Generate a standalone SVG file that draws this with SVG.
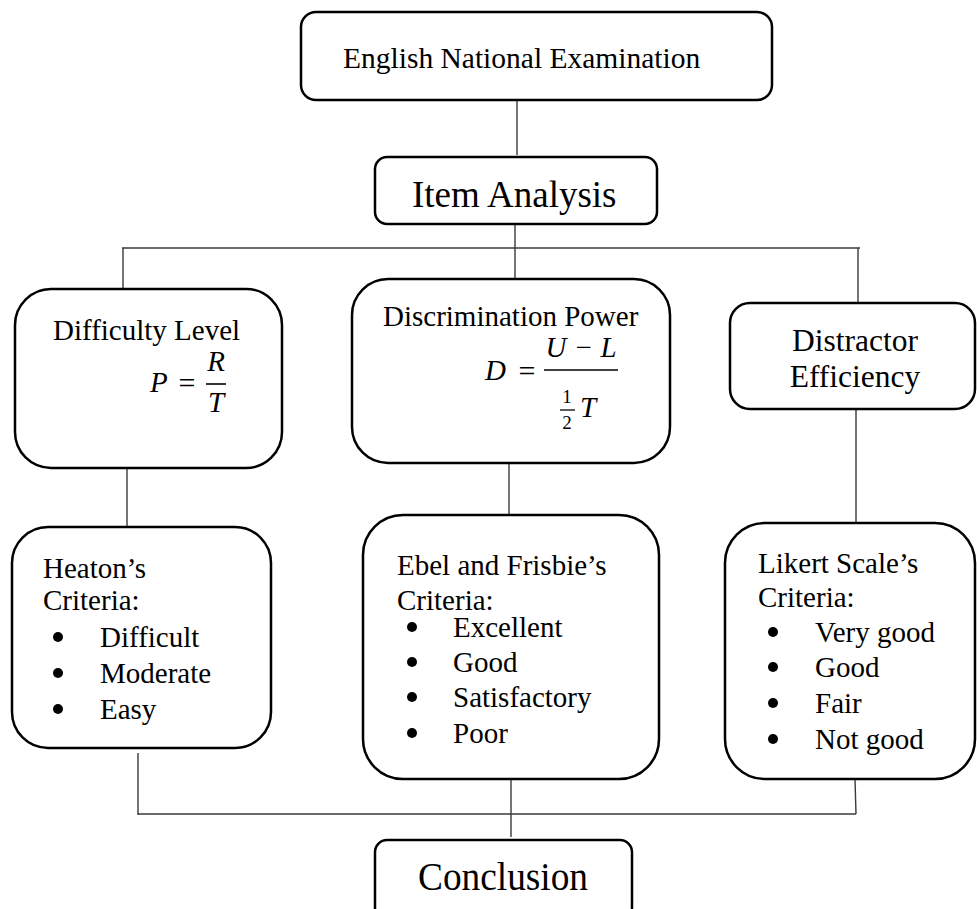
<svg xmlns="http://www.w3.org/2000/svg" width="977" height="909" viewBox="0 0 977 909">
<style>
.box{fill:#fff;stroke:#000;stroke-width:2.5}
.con{stroke:#3a3a3a;stroke-width:1.4;fill:none}
.t{font-family:"Liberation Serif","Times New Roman",serif;fill:#000;font-size:29px}
.m{font-family:"Liberation Serif","Times New Roman",serif;font-style:italic;fill:#000;font-size:29px}
.mu{font-family:"Liberation Serif","Times New Roman",serif;fill:#000}
.dot{fill:#000}
</style>
<rect width="977" height="909" fill="#fff"/>
<g id="connectors">
<line class="con" x1="517" y1="100" x2="517" y2="155"/>
<line class="con" x1="515" y1="224" x2="515" y2="279"/>
<line class="con" x1="122" y1="248" x2="860" y2="248"/>
<line class="con" x1="123" y1="248" x2="123" y2="289"/>
<line class="con" x1="858" y1="248" x2="858" y2="303"/>
<line class="con" x1="127" y1="468" x2="127" y2="527"/>
<line class="con" x1="509" y1="463" x2="509" y2="515"/>
<line class="con" x1="856" y1="409" x2="856" y2="523"/>
<line class="con" x1="138" y1="753" x2="138" y2="815"/>
<line class="con" x1="138" y1="814" x2="856" y2="814"/>
<line class="con" x1="855" y1="779" x2="856" y2="814"/>
<line class="con" x1="511" y1="779" x2="511" y2="837"/>
</g>
<g id="english-national-examination">
<rect class="box" x="301" y="12" width="471" height="88" rx="15"/>
<text class="t" x="343" y="68" style="font-size:29.5px">English National Examination</text>
</g>
<g id="item-analysis">
<rect class="box" x="375" y="157" width="282" height="67" rx="12"/>
<text class="t" x="412" y="207" style="font-size:37px">Item Analysis</text>
</g>
<g id="difficulty-level">
<rect class="box" x="15" y="289" width="267" height="179" rx="36"/>
<text class="t" x="53" y="340">Difficulty Level</text>
<text class="m" x="150" y="392">P</text>
<text class="mu" x="187" y="393" font-size="30" text-anchor="middle">=</text>
<line x1="206" y1="384" x2="226" y2="384" stroke="#000" stroke-width="1.6"/>
<text class="m" x="216" y="371" text-anchor="middle">R</text>
<text class="m" x="216" y="412" text-anchor="middle">T</text>
</g>
<g id="discrimination-power">
<rect class="box" x="352" y="279" width="318" height="184" rx="36"/>
<text class="t" x="383" y="326">Discrimination Power</text>
<text class="m" x="485" y="380">D</text>
<text class="mu" x="527" y="381" font-size="30" text-anchor="middle">=</text>
<line x1="544" y1="370" x2="618" y2="370" stroke="#000" stroke-width="1.6"/>
<text class="m" x="581" y="357" text-anchor="middle">U − L</text>
<text class="mu" x="567" y="403" font-size="19" text-anchor="middle">1</text>
<line x1="560" y1="410" x2="575" y2="410" stroke="#000" stroke-width="1.3"/>
<text class="mu" x="567" y="429" font-size="19" text-anchor="middle">2</text>
<text class="m" x="580" y="417">T</text>
</g>
<g id="distractor-efficiency">
<rect class="box" x="730" y="303" width="245" height="106" rx="20"/>
<text class="t" x="855" y="351" text-anchor="middle" style="font-size:31.5px">Distractor</text>
<text class="t" x="855" y="387" text-anchor="middle" style="font-size:31.5px">Efficiency</text>
</g>
<g id="heaton-criteria">
<rect class="box" x="12" y="527" width="259" height="221" rx="36"/>
<text class="t" x="43" y="578">Heaton’s</text>
<text class="t" x="43" y="610">Criteria:</text>
<circle class="dot" cx="58" cy="637" r="5"/><text class="t" x="100" y="647">Difficult</text>
<circle class="dot" cx="58" cy="673" r="5"/><text class="t" x="100" y="683">Moderate</text>
<circle class="dot" cx="58" cy="709" r="5"/><text class="t" x="100" y="719">Easy</text>
</g>
<g id="ebel-frisbie-criteria">
<rect class="box" x="363" y="515" width="296" height="264" rx="40"/>
<text class="t" x="397" y="575">Ebel and Frisbie’s</text>
<text class="t" x="397" y="610">Criteria:</text>
<circle class="dot" cx="412" cy="627" r="5"/><text class="t" x="453" y="637">Excellent</text>
<circle class="dot" cx="412" cy="662" r="5"/><text class="t" x="453" y="672">Good</text>
<circle class="dot" cx="412" cy="697" r="5"/><text class="t" x="453" y="707">Satisfactory</text>
<circle class="dot" cx="412" cy="733" r="5"/><text class="t" x="453" y="743">Poor</text>
</g>
<g id="likert-criteria">
<rect class="box" x="725" y="523" width="250" height="256" rx="40"/>
<text class="t" x="758" y="573">Likert Scale’s</text>
<text class="t" x="758" y="607">Criteria:</text>
<circle class="dot" cx="773" cy="632" r="5"/><text class="t" x="815" y="642">Very good</text>
<circle class="dot" cx="773" cy="667" r="5"/><text class="t" x="815" y="677">Good</text>
<circle class="dot" cx="773" cy="703" r="5"/><text class="t" x="815" y="713">Fair</text>
<circle class="dot" cx="773" cy="739" r="5"/><text class="t" x="815" y="749">Not good</text>
</g>
<g id="conclusion">
<rect class="box" x="375" y="840" width="257" height="80" rx="12"/>
<text class="t" x="418" y="890" style="font-size:39px" textLength="170" lengthAdjust="spacingAndGlyphs">Conclusion</text>
</g>
</svg>
